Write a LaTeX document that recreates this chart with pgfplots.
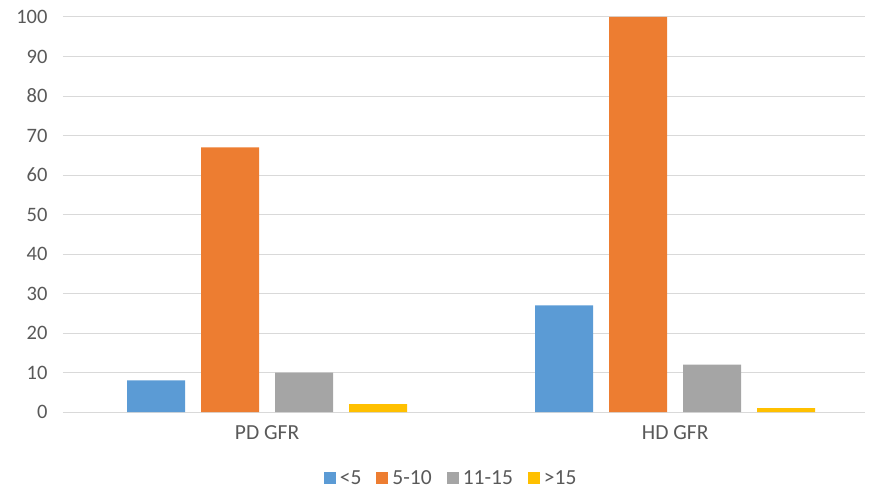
\documentclass[border=0pt]{standalone}
\usepackage{pgfplots}
\pgfplotsset{compat=1.18}
\usepackage{fontspec}
\setmainfont{Carlito}

\definecolor{cBlue}{HTML}{5B9BD5}
\definecolor{cOrange}{HTML}{ED7D31}
\definecolor{cGray}{HTML}{A5A5A5}
\definecolor{cGold}{HTML}{FFC000}
\definecolor{txt}{HTML}{595959}
\definecolor{gridc}{HTML}{D9D9D9}

\pgfplotstableread{
x  lt5  f5to10  f11to15  gt15
0  8    67      10       2
1  27   100     12       1
}\gfrdata

\begin{document}
\begin{tikzpicture}
\begin{axis}[
  name=ax,
  scale only axis,
  width=802pt, height=395pt,
  xmin=-0.5, xmax=1.465,
  ymin=0, ymax=100,
  ytick={0,10,...,100},
  xtick={0,1},
  xticklabels={PD GFR, HD GFR},
  ybar=16pt, bar width=58pt,
  ymajorgrids, grid style={gridc, line width=1pt},
  axis x line*=bottom,
  axis y line*=left,
  y axis line style={draw=none},
  x axis line style={gridc, line width=1pt, -},
  major tick length=0pt,
  tick label style={font=\fontsize{20.5}{24}\selectfont, text=txt},
  xticklabel style={font=\fontsize{21.5}{24}\selectfont, yshift=-10pt},
  /pgf/number format/assume math mode=true,
  yticklabel style={xshift=-12pt},
  legend style={
    at={(0.484,-0.167)}, anchor=center,
    draw=none, fill=none,
    legend columns=-1,
    font=\fontsize{21.5}{24}\selectfont, text=txt,
    /tikz/every odd column/.append style={column sep=2pt},
    /tikz/every even column/.append style={column sep=13pt},
  },
  legend image code/.code={\fill[#1] (0pt,-6pt) rectangle (12pt,6pt);},
]
\addplot[fill=cBlue, draw=none] table[x=x, y=lt5] {\gfrdata};
\addplot[fill=cOrange, draw=none] table[x=x, y=f5to10] {\gfrdata};
\addplot[fill=cGray, draw=none] table[x=x, y=f11to15] {\gfrdata};
\addplot[fill=cGold, draw=none] table[x=x, y=gt15] {\gfrdata};
\legend{<5, 5-10, 11-15, >15}
\end{axis}
\pgfresetboundingbox
\path[use as bounding box] ([xshift=-63pt, yshift=-76pt]ax.south west) rectangle ++(869pt,488pt);
\end{tikzpicture}
\end{document}
